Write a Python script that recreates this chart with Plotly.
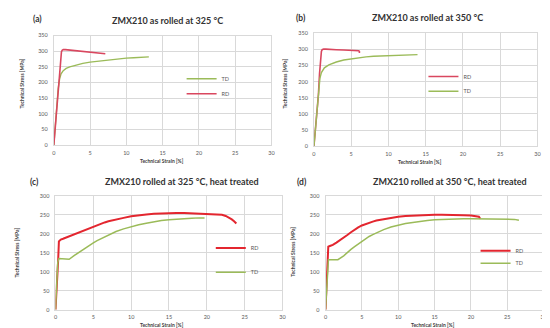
import plotly.graph_objects as go

# ---------------- data ----------------
a_rd_strain = [0, 0.2, 0.4, 0.6, 0.8, 0.95, 1.05, 1.15, 1.3, 1.6, 2, 3, 4, 5, 6, 6.6, 7.1]
a_rd_stress = [0, 55, 115, 170, 240, 285, 298, 303, 305, 305, 304, 302, 300, 298, 296, 294, 292]
a_td_strain = [0, 0.2, 0.4, 0.6, 0.8, 1.0, 1.3, 1.7, 2.2, 3, 4, 5, 6, 7, 8, 9, 10, 11, 12, 13.1]
a_td_stress = [0, 60, 125, 180, 212, 228, 238, 245, 250, 256, 261, 265, 268, 271, 274, 276, 278, 279, 281, 282]

b_rd_strain = [0, 0.2, 0.4, 0.6, 0.75, 0.9, 1.0, 1.1, 1.3, 1.6, 2, 3, 4, 5, 5.8, 6.0, 6.1, 6.1]
b_rd_stress = [0, 50, 105, 160, 225, 280, 294, 299, 301, 301, 300, 299, 298, 297, 297, 296, 294, 289]
b_td_strain = [0, 0.2, 0.4, 0.6, 0.8, 1.0, 1.4, 2, 3, 4, 5, 6, 7, 8, 9, 10, 11, 12, 13, 13.9]
b_td_stress = [0, 55, 115, 170, 210, 228, 243, 252, 261, 267, 271, 274, 277, 279, 280, 281, 282, 283, 283, 284]

c_rd_strain = [0, 0.2, 0.35, 0.45, 0.7, 1, 1.5, 2, 2.5, 3, 3.5, 4, 4.5, 5, 5.5, 6, 6.5, 7, 8, 9, 10, 11, 12,
               13, 14, 15, 16, 17, 18, 19, 20, 21, 22, 22.5, 22.9, 23.3, 23.6, 23.9]
c_rd_stress = [0, 60, 130, 180, 185, 187, 191, 195, 199, 204, 208, 212, 216, 220, 224, 227, 230, 233, 238, 242,
               246, 249, 251, 253, 254, 255, 255, 255, 254, 254, 253, 252, 250, 247, 243, 238, 233, 227]
c_td_strain = [0, 0.15, 0.3, 0.45, 1.0, 1.8, 2.5, 3, 3.5, 4, 4.5, 5, 5.5, 6, 6.5, 7, 8, 9, 10, 11, 12, 13, 14, 15,
               16, 17, 18, 19, 19.7]
c_td_stress = [0, 60, 125, 135, 134, 133, 143, 150, 157, 163, 170, 176, 182, 187, 192, 197, 206, 213, 219, 224,
               228, 232, 235, 237, 239, 240, 241, 242, 242]

d_rd_strain = [0, 0.15, 0.3, 0.38, 0.6, 1, 1.5, 2, 2.5, 3, 3.5, 4, 4.5, 5, 5.5, 6, 6.5, 7, 8, 9, 10, 11, 12, 13,
               14, 15, 16, 17, 18, 19, 20, 20.7, 21.1, 21.2, 21.3]
d_rd_stress = [0, 60, 130, 166, 168, 171, 177, 183, 190, 197, 204, 211, 217, 222, 226, 229, 232, 235, 239, 242,
               245, 247, 248, 249, 250, 250, 250, 250, 249, 249, 248, 247, 245, 242, 240]
d_td_strain = [0, 0.15, 0.3, 0.4, 1, 1.7, 2.5, 3, 3.5, 4, 4.5, 5, 5.5, 6, 6.5, 7, 8, 9, 10, 11, 12, 13, 14, 15,
               16, 17, 18, 19, 20, 21, 22, 23, 24, 25, 26, 26.6]
d_td_stress = [0, 60, 125, 132, 132, 132, 142, 151, 159, 166, 173, 180, 187, 193, 198, 203, 211, 218, 223, 227,
               230, 233, 235, 237, 238, 239, 240, 240, 240, 240, 240, 240, 240, 239, 238, 236]

panel_titles = ["ZMX210 as rolled at 325 °C", "ZMX210 as rolled at 350 °C",
                "ZMX210 rolled at 325 °C, heat treated", "ZMX210 rolled at 350 °C, heat treated"]
panel_labels = ["(a)", "(b)", "(c)", "(d)"]
x_title = "Technical Strain [%]"
y_title = "Technical Stress [MPa]"

# ---------------- styling ----------------
W, H = 550, 328
RD_AB = "#d9475f"
RD_CD = "#e3262f"
TD_COL = "#9bbb59"
GRID = "#d9d9d9"
FONT = "Lato"

def px(x):
    return x / W

def py(y):
    return 1 - y / H

# domains in pixel space (left, right, top, bottom)
doms = [
    (44.3, 264.3, 25.0, 136.7),
    (307.3, 533.3, 22.7, 137.7),
    (46.0, 275.5, 188.3, 304.3),
    (319.0, 539.5, 188.3, 304.3),
]
y_max = [350, 350, 300, 300]

fig = go.Figure()

series = [
    # (panel, name, x, y, color, width, legend id, text-x, text-y)
    (0, "TD", a_td_strain, a_td_stress, TD_COL, 1.4, "legend", 215.5, 69.0),
    (0, "RD", a_rd_strain, a_rd_stress, RD_AB, 1.6, "legend2", 215.5, 84.3),
    (1, "RD", b_rd_strain, b_rd_stress, RD_AB, 1.6, "legend3", 460.0, 66.7),
    (1, "TD", b_td_strain, b_td_stress, TD_COL, 1.4, "legend4", 460.0, 81.7),
    (2, "RD", c_rd_strain, c_rd_stress, RD_CD, 2.0, "legend5", 245.0, 241.3),
    (2, "TD", c_td_strain, c_td_stress, TD_COL, 1.5, "legend6", 245.0, 266.0),
    (3, "RD", d_rd_strain, d_rd_stress, RD_CD, 2.0, "legend7", 512.7, 244.3),
    (3, "TD", d_td_strain, d_td_stress, TD_COL, 1.5, "legend8", 512.7, 257.0),
]

legend_layouts = {}
for panel, name, xs, ys, col, w, leg, tx, ty in series:
    sfx = "" if panel == 0 else str(panel + 1)
    fig.add_trace(go.Scatter(
        x=xs, y=ys, mode="lines", name=name,
        line=dict(color=col, width=w),
        xaxis="x" + sfx, yaxis="y" + sfx, legend=leg, showlegend=True,
    ))
    legend_layouts[leg] = dict(
        x=px(tx - 42), y=py(ty), xanchor="left", yanchor="middle",
        bgcolor="rgba(255,255,255,0)", borderwidth=0,
        font=dict(family=FONT, size=5.5, color="#595959"),
        tracegroupgap=0,
    )

layout = dict(
    width=W, height=H,
    margin=dict(l=0, r=0, t=0, b=0),
    paper_bgcolor="white", plot_bgcolor="white",
    font=dict(family=FONT, color="#595959"),
    showlegend=True,
)
for i, (l, r, t, b) in enumerate(doms):
    sfx = "" if i == 0 else str(i + 1)
    layout["xaxis" + sfx] = dict(
        domain=[px(l), px(r)], range=[0, 30], dtick=5, anchor="y" + sfx,
        showgrid=True, gridcolor=GRID, gridwidth=1, zeroline=False,
        showline=True, linecolor=GRID, linewidth=1, mirror=True,
        ticks="", tickfont=dict(family=FONT, size=5.5, color="#595959"), ticklabelstandoff=2,
    )
    layout["yaxis" + sfx] = dict(
        domain=[py(b), py(t)], range=[0, y_max[i]], dtick=50, anchor="x" + sfx,
        showgrid=True, gridcolor=GRID, gridwidth=1, zeroline=False,
        showline=True, linecolor=GRID, linewidth=1, mirror=True,
        ticks="", tickfont=dict(family=FONT, size=5.5, color="#595959"), ticklabelstandoff=4,
    )
layout.update(legend_layouts)
fig.update_layout(**layout)

# titles, panel labels, axis titles
title_pos = [(159.5, 9.3), (422.5, 7.0), (174.0, 174.0), (444.7, 174.0)]
label_pos = [(28.0, 8.0), (294.0, 7.0), (25.0, 174.0), (295.5, 174.0)]
xt_pos = [(153.3, 152.7), (415.0, 154.3), (153.3, 320.0), (427.7, 320.0)]
yt_pos = [(12.0, 74.0), (278.0, 74.0), (7.5, 245.7), (286.7, 245.7)]

for i in range(4):
    fig.add_annotation(x=px(title_pos[i][0]), y=py(title_pos[i][1]), xref="paper", yref="paper",
                       text="<b>" + panel_titles[i] + "</b>", showarrow=False,
                       font=dict(family=FONT, size=9, color="#333333"),
                       xanchor="center", yanchor="middle")
    fig.add_annotation(x=px(label_pos[i][0]), y=py(label_pos[i][1]), xref="paper", yref="paper",
                       text="<b>" + panel_labels[i] + "</b>", showarrow=False,
                       font=dict(family=FONT, size=8.5, color="#333333"),
                       xanchor="center", yanchor="middle")
    fig.add_annotation(x=px(xt_pos[i][0]), y=py(xt_pos[i][1]), xref="paper", yref="paper",
                       text="<b>" + x_title + "</b>", showarrow=False,
                       font=dict(family=FONT, size=5, color="#404040"),
                       xanchor="center", yanchor="middle")
    fig.add_annotation(x=px(yt_pos[i][0]), y=py(yt_pos[i][1]), xref="paper", yref="paper",
                       text="<b>" + y_title + "</b>", showarrow=False, textangle=-90,
                       font=dict(family=FONT, size=5, color="#404040"),
                       xanchor="center", yanchor="middle")

fig.write_html("out.html")
